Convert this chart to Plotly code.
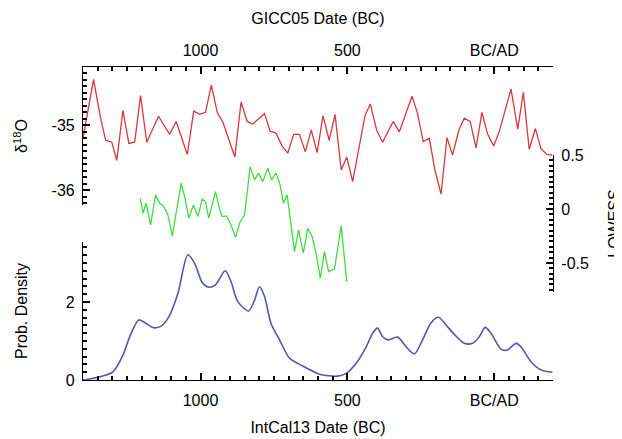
import plotly.graph_objects as go

# ---- data (years BC; negative = AD) ----
d18o_year = [1400, 1364, 1341, 1323, 1302, 1285, 1264, 1244, 1224, 1204, 1183, 1143, 1105, 1083,
             1045, 1023, 1003, 983, 963, 943, 924, 883, 862, 841, 822, 782, 763, 743, 722, 703,
             683, 663, 643, 623, 603, 583, 562, 542, 521, 502, 482, 440, 422, 400, 380, 344,
             323, 280, 261, 242, 221, 202, 181, 161, 142, 121, 102, 82, 62, 42, 23, 2, -17,
             -57, -80, -99, -119, -140, -159, -179, -198]
d18o_value = [-35.20, -34.29, -34.87, -35.23, -35.26, -35.54, -34.77, -35.28, -35.26, -34.54,
              -35.26, -34.86, -35.14, -34.94, -35.45, -34.78, -34.83, -34.80, -34.38, -34.80,
              -34.95, -35.49, -34.64, -34.94, -34.98, -34.82, -35.09, -35.12, -35.32, -35.43,
              -35.14, -35.14, -35.41, -35.07, -35.42, -34.85, -35.23, -34.83, -35.69, -35.49,
              -35.87, -34.85, -34.67, -35.08, -35.26, -34.94, -35.10, -34.55, -34.82, -35.25,
              -35.20, -35.69, -36.06, -35.19, -35.46, -35.08, -34.89, -34.94, -35.35, -34.80,
              -35.13, -35.32, -35.10, -34.44, -35.06, -34.49, -35.37, -35.05, -35.36, -35.45,
              -35.46]

lowess_year = [1205, 1196, 1185, 1170, 1153, 1139, 1126, 1111, 1096, 1081, 1066, 1054, 1040,
               1024, 1009, 994, 983, 972, 949, 935, 926, 911, 896, 881, 865, 850, 831, 816,
               802, 788, 771, 758, 743, 729, 718, 705, 688, 680, 666, 650, 635, 620, 607,
               592, 578, 564, 544, 521, 502]
lowess_value = [0.099, -0.040, 0.053, -0.148, 0.130, 0.053, 0.028, -0.056, -0.250, 0.006,
                0.238, 0.114, -0.086, 0.037, -0.071, 0.090, 0.068, -0.086, 0.160, -0.003,
                -0.071, -0.065, -0.148, -0.262, -0.118, -0.056, 0.392, 0.269, 0.331, 0.253,
                0.377, 0.269, 0.331, 0.222, 0.053, 0.130, -0.194, -0.395, -0.194, -0.410,
                -0.179, -0.256, -0.410, -0.642, -0.395, -0.581, -0.558, -0.157, -0.673]

density_year = [1400, 1349, 1298, 1264, 1236, 1210, 1185, 1160, 1134, 1108, 1077, 1043, 1020,
                994, 972, 949, 916, 896, 873, 836, 816, 799, 782, 760, 731, 697, 652, 595,
                533, 504, 470, 436, 414, 397, 380, 360, 329, 300, 272, 244, 215, 190, 164,
                136, 102, 74, 51, 31, 11, -23, -45, -74, -91, -125, -159, -198]
density_value = [0.0, 0.07, 0.21, 0.64, 1.20, 1.54, 1.45, 1.34, 1.38, 1.62, 2.22, 3.21, 2.99,
                 2.50, 2.38, 2.44, 2.80, 2.52, 2.01, 1.77, 2.05, 2.39, 2.14, 1.45, 1.03, 0.56,
                 0.36, 0.15, 0.10, 0.17, 0.43, 0.85, 1.20, 1.33, 1.11, 1.03, 1.10, 0.85, 0.67,
                 1.03, 1.47, 1.61, 1.41, 1.17, 0.94, 0.94, 1.11, 1.35, 1.20, 0.79, 0.77, 0.94,
                 0.85, 0.47, 0.26, 0.20]

# tick label aliases (plotly prints negatives with U+2212; the source uses "-")
date_alias = {"0": "BC/AD"}
d18o_alias = {"\u221235": "-35", "\u221236": "-36"}
lowess_alias = {"\u22120.5": "-0.5"}

FONT = "Liberation Sans, Arial, sans-serif"
TFONT = dict(family=FONT, size=16, color="black")

fig = go.Figure()
fig.add_trace(go.Scatter(x=d18o_year, y=d18o_value, mode="lines", xaxis="x2", yaxis="y",
                         line=dict(color="#d8373c", width=1.3), showlegend=False))
fig.add_trace(go.Scatter(x=lowess_year, y=lowess_value, mode="lines", xaxis="x2", yaxis="y2",
                         line=dict(color="#3fdc3f", width=1.3), showlegend=False))
fig.add_trace(go.Scatter(x=density_year, y=density_value, mode="lines", xaxis="x", yaxis="y3",
                         line=dict(color="#5555b5", width=1.6, shape="spline", smoothing=0.8),
                         showlegend=False))

common = dict(showgrid=False, zeroline=False, showline=True, linecolor="black", linewidth=1.2,
              ticks="inside", ticklen=7, tickcolor="black", tickwidth=2, automargin=False,
              tickfont=TFONT, tickmode="linear", tick0=0, layer="above traces")


def minor(step):
    return dict(tickmode="linear", dtick=step, tick0=0, ticks="inside", ticklen=4,
                tickcolor="black", tickwidth=1.5, showgrid=False)


xr = [1400, -200]

fig.update_layout(
    width=622, height=431, autosize=False,
    margin=dict(l=75, r=77, t=59, b=59),
    paper_bgcolor="white", plot_bgcolor="rgba(0,0,0,0)",
    font=TFONT,
    xaxis=dict(domain=[0, 1], anchor="y3", side="bottom", range=xr,
               dtick=500, labelalias=date_alias,
               minor=minor(50), ticklabelstandoff=6,
               title=dict(text="IntCal13 Date (BC)", standoff=13, font=TFONT),
               **common),
    xaxis2=dict(domain=[0, 1], anchor="y", side="top", range=xr,
                dtick=500, labelalias=date_alias,
                minor=minor(50), ticklabelstandoff=4,
                title=dict(text="GICC05 Date (BC)", standoff=12, font=TFONT),
                **common),
    yaxis=dict(domain=[0.559, 1], anchor="x2", side="left", range=[-36.23, -34.1],
               dtick=1, labelalias=d18o_alias,
               minor=minor(0.1), ticklabelstandoff=4,
               title=dict(text="δ<sup>18</sup>O", standoff=19, font=TFONT),
               **common),
    yaxis2=dict(domain=[0.281, 0.719], anchor="x2", side="right", range=[-0.77, 0.5],
                dtick=0.5, labelalias=lowess_alias,
                minor=minor(0.05), ticklabelstandoff=4,
                title=dict(text="LOWESS", standoff=20, font=TFONT),
                **common),
    yaxis3=dict(domain=[0, 0.441], anchor="x", side="left", range=[0, 3.54],
                dtick=2,
                minor=minor(0.2), ticklabelstandoff=4,
                title=dict(text="Prob. Density", standoff=34, font=TFONT),
                **common),
)

fig.write_html("out.html")
